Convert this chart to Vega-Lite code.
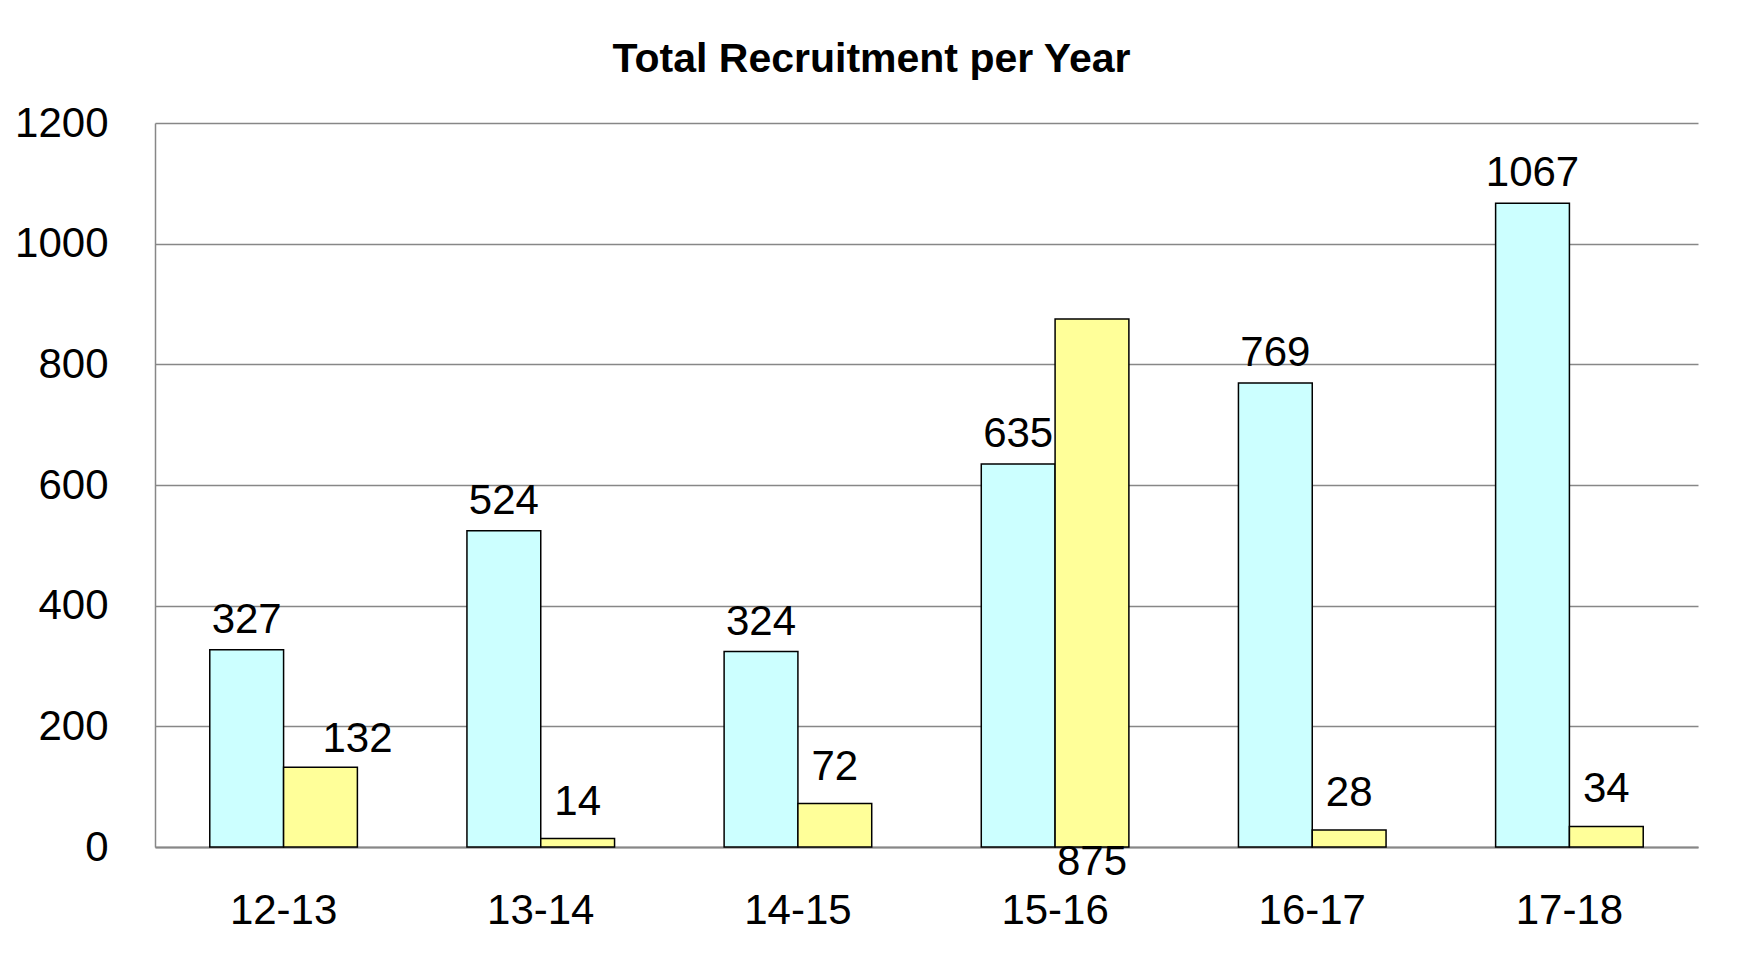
{
  "$schema": "https://vega.github.io/schema/vega-lite/v6.json",
  "width": 1543,
  "height": 724,
  "autosize": {"type": "none"},
  "padding": {"left": 155, "top": 123, "right": 43, "bottom": 107},
  "background": "white",
  "config": {"view": {"stroke": null}},
  "title": {
    "text": "Total Recruitment per Year",
    "font": "Liberation Sans",
    "fontSize": 41,
    "fontWeight": "bold",
    "color": "black",
    "anchor": "middle",
    "frame": "group",
    "dx": -55,
    "dy": 61,
    "offset": 41,
    "baseline": "bottom"
  },
  "data": {
    "values": [
      {"year": "12-13", "series": "Series1", "value": 327},
      {"year": "12-13", "series": "Series2", "value": 132},
      {"year": "13-14", "series": "Series1", "value": 524},
      {"year": "13-14", "series": "Series2", "value": 14},
      {"year": "14-15", "series": "Series1", "value": 324},
      {"year": "14-15", "series": "Series2", "value": 72},
      {"year": "15-16", "series": "Series1", "value": 635},
      {"year": "15-16", "series": "Series2", "value": 875},
      {"year": "16-17", "series": "Series1", "value": 769},
      {"year": "16-17", "series": "Series2", "value": 28},
      {"year": "17-18", "series": "Series1", "value": 1067},
      {"year": "17-18", "series": "Series2", "value": 34}
    ]
  },
  "encoding": {
    "x": {
      "field": "year",
      "type": "nominal",
      "sort": null,
      "scale": {"paddingInner": 0.426, "paddingOuter": 0.213},
      "axis": {
        "title": null,
        "labelAngle": 0,
        "labelFont": "Liberation Sans",
        "labelFontSize": 42,
        "labelColor": "black",
        "labelBaseline": "alphabetic",
        "labelPadding": 76,
        "ticks": false,
        "tickSize": 0,
        "grid": false,
        "domainColor": "#878787",
        "domainWidth": 2
      }
    },
    "xOffset": {
      "field": "series",
      "type": "nominal",
      "sort": null,
      "scale": {"paddingInner": 0, "paddingOuter": 0}
    },
    "y": {
      "field": "value",
      "type": "quantitative",
      "scale": {"domain": [0, 1200], "nice": false},
      "axis": {
        "title": null,
        "values": [0, 200, 400, 600, 800, 1000, 1200],
        "format": "d",
        "labelFont": "Liberation Sans",
        "labelFontSize": 42,
        "labelColor": "black",
        "labelPadding": 47,
        "labelFlush": false,
        "labelBaseline": "middle",
        "ticks": false,
        "tickSize": 0,
        "grid": true,
        "gridColor": "#878787",
        "gridWidth": 1.5,
        "domainColor": "#878787",
        "domainWidth": 1.5
      }
    }
  },
  "layer": [
    {
      "mark": {"type": "bar", "stroke": "black", "strokeWidth": 1.5},
      "encoding": {
        "color": {
          "field": "series",
          "type": "nominal",
          "scale": {"domain": ["Series1", "Series2"], "range": ["#CCFFFF", "#FFFF99"]},
          "legend": null
        }
      }
    },
    {
      "transform": [{"filter": "datum.series === 'Series1'"}],
      "mark": {"type": "text", "baseline": "alphabetic", "dy": -17, "font": "Liberation Sans", "fontSize": 42, "color": "black"},
      "encoding": {"text": {"field": "value", "type": "quantitative", "format": "d"}}
    },
    {
      "transform": [{"filter": "datum.series === 'Series2' && datum.year !== '15-16' && datum.year !== '12-13'"}],
      "mark": {"type": "text", "baseline": "alphabetic", "dy": -24, "font": "Liberation Sans", "fontSize": 42, "color": "black"},
      "encoding": {"text": {"field": "value", "type": "quantitative", "format": "d"}}
    },
    {
      "transform": [{"filter": "datum.series === 'Series2' && datum.year === '12-13'"}],
      "mark": {"type": "text", "baseline": "alphabetic", "dx": 37, "dy": -15, "font": "Liberation Sans", "fontSize": 42, "color": "black"},
      "encoding": {"text": {"field": "value", "type": "quantitative", "format": "d"}}
    },
    {
      "transform": [{"filter": "datum.series === 'Series2' && datum.year === '15-16'"}],
      "mark": {"type": "text", "baseline": "alphabetic", "dy": 28, "font": "Liberation Sans", "fontSize": 42, "color": "black"},
      "encoding": {
        "y": {"datum": 0, "type": "quantitative"},
        "text": {"field": "value", "type": "quantitative", "format": "d"}
      }
    }
  ]
}
